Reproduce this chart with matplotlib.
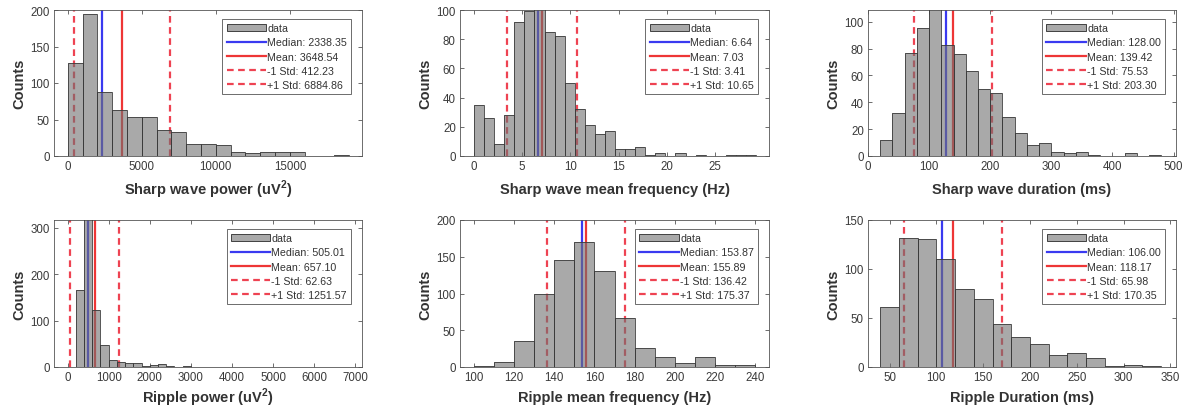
import numpy as np
import matplotlib.pyplot as plt
from matplotlib import rcParams
from matplotlib.patches import Patch
from matplotlib.lines import Line2D

rcParams.update({
    'font.family': ['Liberation Sans', 'DejaVu Sans'],
    'mathtext.fontset': 'custom',
    'mathtext.rm': 'Liberation Sans',
    'mathtext.bf': 'Liberation Sans:bold',
    'axes.linewidth': 0.6,
    'axes.edgecolor': '#555555',
})

# ---- data (bin counts, bin start, bin width, stats) ----
sw_power_counts = [127, 194, 88, 63, 53, 53, 35, 33, 17, 17, 15, 5, 4, 5, 5, 5, 0, 0, 1]
sw_power_bins = (0, 1000)
sw_power_stats = [2338.35, 3648.54, 412.23, 6884.86]  # median, mean, -1 std, +1 std

sw_freq_counts = [35, 26, 8, 28, 92, 99, 104, 85, 82, 50, 32, 21, 15, 17, 5, 5, 6,
                  1, 2, 0, 2, 0, 1, 0, 0, 1, 1, 1]
sw_freq_bins = (0, 1.045)
sw_freq_stats = [6.64, 7.03, 3.41, 10.65]

sw_dur_counts = [12, 32, 77, 95, 112, 83, 76, 63, 50, 47, 29, 17, 8, 10, 3, 2, 3,
                 1, 0, 0, 2, 0, 1]
sw_dur_bins = (20, 20)
sw_dur_stats = [128.00, 139.42, 75.53, 203.30]

rip_power_counts = [1, 166, 330, 123, 47, 16, 10, 8, 8, 3, 5, 6, 3, 1, 2, 1, 0, 1,
                    1, 0, 1, 0, 0, 0, 0, 0, 0, 1, 0, 1, 0, 0, 0, 1]
rip_power_bins = (0, 200)
rip_power_stats = [505.01, 657.10, 62.63, 1251.57]

rip_freq_counts = [2, 7, 35, 100, 146, 170, 130, 67, 26, 13, 6, 13, 3, 3]
rip_freq_bins = (100, 10)
rip_freq_stats = [153.87, 155.89, 136.42, 175.37]

rip_dur_counts = [61, 132, 131, 110, 80, 69, 44, 31, 23, 12, 14, 9, 1, 2, 1]
rip_dur_bins = (40, 20)
rip_dur_stats = [106.00, 118.17, 65.98, 170.35]

BAR_FACE = '#707070'
MEDIAN_C = '#3a3af0'
MEAN_C = '#ee3636'
STD_C = '#ee4352'


def draw_hist(ax, counts, bins, stats, xlabel, xticks, yticks, xlim, ylim, pad=7):
    start, width = bins
    edges = start + width * np.arange(len(counts) + 1)
    med, mean, lo, hi = stats

    # stat lines sit behind the semi transparent bars
    ax.axvline(med, color=MEDIAN_C, lw=1.6, zorder=1)
    ax.axvline(mean, color=MEAN_C, lw=1.6, zorder=1)
    for v in (lo, hi):
        ax.axvline(v, color=STD_C, lw=1.6, ls=(0, (3, 2)), zorder=1)
    ax.hist(edges[:-1], bins=edges, weights=counts, facecolor=BAR_FACE, alpha=0.6,
            edgecolor='none', zorder=2)
    ax.hist(edges[:-1], bins=edges, weights=counts, histtype='bar', fill=False,
            edgecolor='#3a3a3a', linewidth=0.6, zorder=3)

    ax.set_xlim(*xlim)
    ax.set_ylim(*ylim)
    ax.set_xticks(xticks)
    ax.set_yticks(yticks)
    ax.tick_params(direction='in', length=3, width=0.6, top=True, right=True,
                   labelsize=8.3, labelcolor='#3a3a3a', pad=3, color='#555555')
    ax.set_xlabel(xlabel, fontsize=10.5, fontweight='bold', color='#333333', labelpad=pad)
    ax.set_ylabel('Counts', fontsize=10.5, fontweight='bold', color='#333333', labelpad=3)

    handles = [
        Patch(facecolor='#a9a9a9', edgecolor='#2a2a2a', linewidth=0.6),
        Line2D([], [], color=MEDIAN_C, lw=1.6),
        Line2D([], [], color=MEAN_C, lw=1.6),
        Line2D([], [], color=STD_C, lw=1.6, ls=(0, (3, 2))),
        Line2D([], [], color=STD_C, lw=1.6, ls=(0, (3, 2))),
    ]
    labels = ['data', f'Median: {med:.2f}', f'Mean: {mean:.2f}',
              f'-1 Std: {lo:.2f}', f'+1 Std: {hi:.2f}']
    leg = ax.legend(handles, labels, loc='upper right', bbox_to_anchor=(0.965, 0.94),
                    borderaxespad=0, fontsize=7.7, frameon=True, fancybox=False,
                    framealpha=1, edgecolor='#555555', borderpad=0.4,
                    labelspacing=0.4, handlelength=3.7, handletextpad=0.1)
    leg.get_frame().set_linewidth(0.6)
    for t in leg.get_texts():
        t.set_color('#333333')


fig = plt.figure(figsize=(11.84, 4.10), dpi=100)
W, H = 1184, 410
cols = [(54, 362), (460, 769), (868, 1176)]
rows = [(11, 157), (221, 368)]


def make_ax(r, c):
    x0, x1 = cols[c]
    y0, y1 = rows[r]
    return fig.add_axes([x0 / W, 1 - y1 / H, (x1 - x0) / W, (y1 - y0) / H])


draw_hist(make_ax(0, 0), sw_power_counts, sw_power_bins, sw_power_stats,
          r'Sharp wave power (uV$^\mathbf{2}$)', [0, 5000, 10000, 15000],
          [0, 50, 100, 150, 200], (-925, 19865), (0, 200), pad=4)
draw_hist(make_ax(0, 1), sw_freq_counts, sw_freq_bins, sw_freq_stats,
          'Sharp wave mean frequency (Hz)', [0, 5, 10, 15, 20, 25],
          [0, 20, 40, 60, 80, 100], (-1.45, 30.6), (0, 100))
draw_hist(make_ax(0, 2), sw_dur_counts, sw_dur_bins, sw_dur_stats,
          'Sharp wave duration (ms)', [0, 100, 200, 300, 400, 500],
          [0, 20, 40, 60, 80, 100], (0, 504), (0, 108.7))
draw_hist(make_ax(1, 0), rip_power_counts, rip_power_bins, rip_power_stats,
          r'Ripple power (uV$^\mathbf{2}$)', list(range(0, 7001, 1000)),
          [0, 100, 200, 300], (-330, 7160), (0, 317), pad=2)
draw_hist(make_ax(1, 1), rip_freq_counts, rip_freq_bins, rip_freq_stats,
          'Ripple mean frequency (Hz)', list(range(100, 241, 20)),
          [0, 50, 100, 150, 200], (93, 247), (0, 200), pad=5)
draw_hist(make_ax(1, 2), rip_dur_counts, rip_dur_bins, rip_dur_stats,
          'Ripple Duration (ms)', list(range(50, 351, 50)),
          [0, 50, 100, 150], (27, 356), (0, 150), pad=5)

fig.savefig('out.png', dpi=100)
